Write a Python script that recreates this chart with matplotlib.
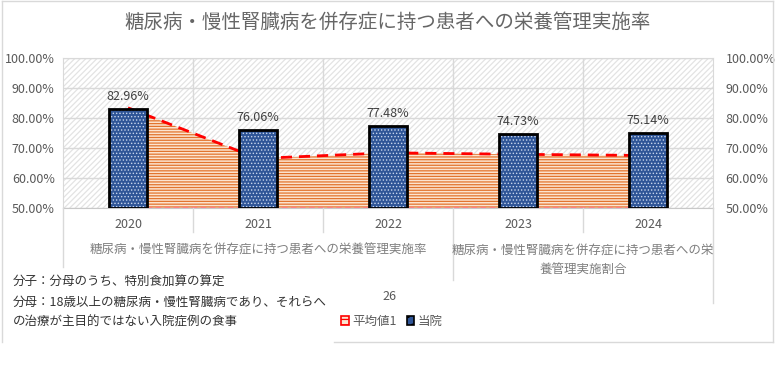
import matplotlib
matplotlib.use("Agg")
import matplotlib.pyplot as plt
from matplotlib.patches import Rectangle, Patch
from matplotlib.lines import Line2D
import numpy as np

plt.rcParams['font.family'] = ['Noto Sans CJK JP', 'DejaVu Sans']
plt.rcParams['hatch.linewidth'] = 0.9

# データ
years = ['2020', '2021', '2022', '2023', '2024']
hospital = [82.96, 76.06, 77.48, 74.73, 75.14]   # 当院
average = [83.5, 66.6, 68.5, 68.0, 67.6]         # 平均値1
y_ticks = [50, 60, 70, 80, 90, 100]
title = '糖尿病・慢性腎臓病を併存症に持つ患者への栄養管理実施率'
group_labels = ['糖尿病・慢性腎臓病を併存症に持つ患者への栄養管理実施率',
                '糖尿病・慢性腎臓病を併存症に持つ患者への栄\n養管理実施割合']
note_lines = ['分子：分母のうち、特別食加算の算定',
              '分母：18歳以上の糖尿病・慢性腎臓病であり、それらへ',
              'の治療が主目的ではない入院症例の食事']

GRAY = '#595959'
GRID = '#D9D9D9'
BLUE = '#2F5597'

W, H = 776, 370
fig = plt.figure(figsize=(W / 100, H / 100), dpi=100)

def px(x0, y0, x1, y1):
    # ピクセル座標 -> figure座標 [left, bottom, width, height]
    return [x0 / W, 1 - y1 / H, (x1 - x0) / W, (y1 - y0) / H]

ax = fig.add_axes(px(63, 58.3, 713, 208.3))
x = np.arange(len(years))

ax.set_xlim(-0.5, len(years) - 0.5)
ax.set_ylim(50, 100)

# 背景の斜線パターン
bg = Rectangle((0, 0), 1, 1, transform=ax.transAxes, facecolor='white',
               edgecolor='#E3E3E3', hatch='//////', linewidth=0, zorder=0)
ax.add_patch(bg)

ax.set_axisbelow(True)
ax.yaxis.grid(True, color=GRID, linewidth=1)
for b in np.arange(0.5, len(years) - 0.5, 1):
    ax.axvline(b, color=GRID, linewidth=1, zorder=0.6)

# 平均値（面グラフ）
ax.fill_between(x, 50, average, facecolor='#FCE4D0', edgecolor='#E2742E',
                hatch='------', linewidth=0, zorder=2)
ax.plot(x, average, color='#FF0000', linestyle=(0, (4, 2.5)), linewidth=2, zorder=3)
ax.plot([x[0], x[-1]], [50.3, 50.3], color='#FF8080', linestyle=(0, (4, 2.5)),
        linewidth=1, zorder=3)

# 当院（棒グラフ）
bw = 0.29
plt.rcParams['hatch.linewidth'] = 0.6
ax.bar(x, [v - 50 for v in hospital], bottom=50, width=bw, color=BLUE,
       edgecolor='#C9D6EE', hatch='.....', linewidth=0, zorder=4)
plt.rcParams['hatch.linewidth'] = 0.9
ax.bar(x, [v - 50 for v in hospital], bottom=50, width=bw, fill=False,
       edgecolor='black', linewidth=2, zorder=5)
for xi, v in zip(x, hospital):
    ax.annotate(f'{v:.2f}%', (xi, v), xytext=(0, 9), textcoords='offset points',
                ha='center', va='center', fontsize=9, color='#404040', zorder=6)

for s in ['top', 'left', 'right']:
    ax.spines[s].set_color(GRID)
ax.spines['bottom'].set_color('#C8C8C8')

ax.set_yticks(y_ticks)
ax.set_yticklabels([f'{t:.2f}%' for t in y_ticks], fontsize=9, color=GRAY)
ax.set_xticks(x)
ax.set_xticklabels(years, fontsize=9, color=GRAY)
ax.tick_params(axis='both', length=0)
ax.tick_params(axis='y', pad=6)
ax.tick_params(axis='x', pad=7)

ax2 = ax.twinx()
ax2.set_ylim(50, 100)
ax2.set_yticks(y_ticks)
ax2.set_yticklabels([f'{t:.2f}%' for t in y_ticks], fontsize=9, color=GRAY)
ax2.tick_params(axis='y', length=0, pad=9)
for s in ax2.spines.values():
    s.set_visible(False)

# 多階層の軸ラベル用の区切り線
def vline(xp, y0, y1):
    fig.add_artist(Line2D([xp / W, xp / W], [1 - y0 / H, 1 - y1 / H],
                          transform=fig.transFigure, color=GRID, linewidth=1))

for xp in [193, 323, 583]:
    vline(xp, 208, 232)
vline(63, 208, 267)
vline(453, 208, 280)
vline(713, 208, 303)

fig.text(258 / W, 1 - 250 / H, group_labels[0], ha='center', va='center',
         fontsize=9, color='#7F7F7F')
fig.text(583 / W, 1 - 259.5 / H, group_labels[1], ha='center', va='center',
         fontsize=9, color='#7F7F7F', linespacing=1.6)

# タイトル
fig.text(388 / W, 1 - 22 / H, title, ha='center', va='center',
         fontsize=14, color='#666666')

# 枠線
for xs, ys in [([2, 2], [1, 342]), ([2, 773], [1, 1]), ([773, 773], [1, 342]),
               ([334, 773], [342, 342])]:
    fig.add_artist(Line2D([v / W for v in xs], [1 - v / H for v in ys],
                          transform=fig.transFigure, color=GRID, linewidth=1))

# 注記
for i, line in enumerate(note_lines):
    fig.text(13 / W, 1 - (282 + 20 * i) / H, line, ha='left', va='center',
             fontsize=9, color='#333333')

fig.text(389 / W, 1 - 297 / H, '26', ha='center', va='center',
         fontsize=9, color=GRAY)

# 凡例
handles = [Patch(facecolor='#FCE4D0', edgecolor='#FF0000', hatch='---', linewidth=1.2),
           Patch(facecolor=BLUE, edgecolor='black', hatch='..', linewidth=1.2)]
fig.legend(handles, ['平均値1', '当院'], loc='center', ncol=2, frameon=False,
           bbox_to_anchor=(392 / W, 1 - 321 / H), fontsize=9, labelcolor=GRAY,
           handlelength=0.6, handleheight=0.7, handletextpad=0.3, columnspacing=0.8)

fig.savefig('out.png', dpi=100)
